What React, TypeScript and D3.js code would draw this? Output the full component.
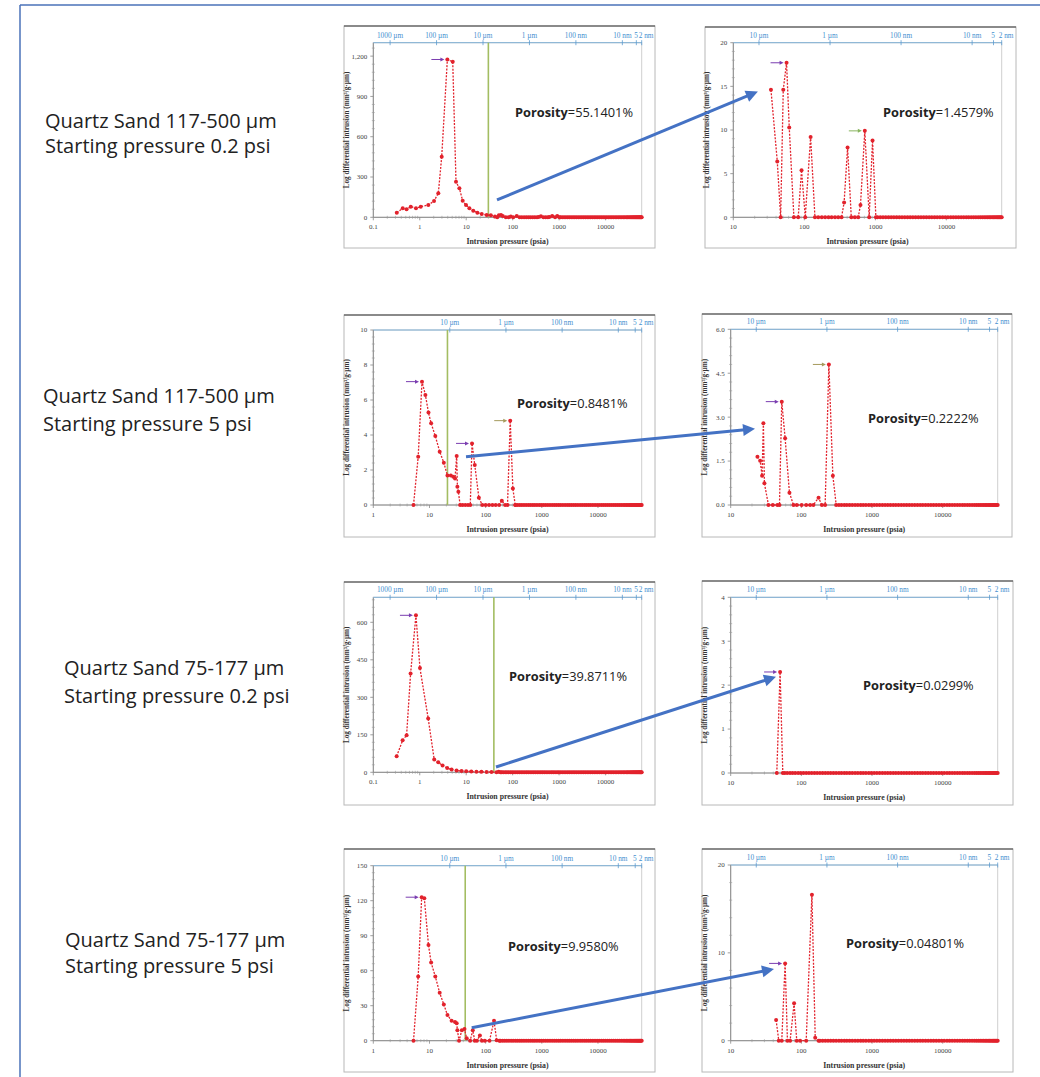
import React from "react";
import * as d3 from "d3";

// ---- data: intrusion pressure (psia) and log differential intrusion ----
// row 1: Quartz Sand 117-500 µm, start 0.2 psi
const p1Psi = [0.32, 0.43, 0.52, 0.64, 0.83, 1.05, 1.53, 2.03, 2.51, 2.97, 3.93, 5.13, 6.03, 7.13, 8.4, 9.9, 11.7, 14.2, 17.4, 21.6, 27.6, 33.9, 41.6, 46.4, 50.5, 56.2, 61.3, 71.3, 82, 91.3, 103, 122.5, 141, 157, 176, 196, 219, 242, 270, 300, 334, 363, 406, 458, 514, 573, 617, 710, 818, 912, 1016];
const p1Val = [34, 67, 60, 79, 67, 79, 92, 121, 179, 451, 1175, 1158, 265, 216, 123, 92, 67, 49, 34, 25, 17, 14.6, 6.4, 0, 14.6, 17.7, 10.3, 0, 0, 5.4, 0, 9.2, 0, 0, 0, 0, 0, 0, 0, 0, 0, 1.7, 8, 0, 0, 0, 1.4, 9.9, 0, 8.8, 0];
const p2Psi = [33.9, 41.6, 46.4, 50.5, 56.2, 61.3, 71.3, 82, 91.3, 103, 122.5, 141, 157, 176, 196, 219, 242, 270, 300, 334, 363, 406, 458, 514, 573, 617, 710, 818, 912, 1016];
const p2Val = [14.6, 6.4, 0, 14.6, 17.7, 10.3, 0, 0, 5.4, 0, 9.2, 0, 0, 0, 0, 0, 0, 0, 0, 0, 1.7, 8.0, 0, 0, 0, 1.4, 9.9, 0, 8.8, 0];
// row 2: Quartz Sand 117-500 µm, start 5 psi
const p3Psi = [5.2, 6.3, 7.36, 8.46, 9.6, 10.7, 12.7, 15.2, 18, 20.9, 24, 26.5, 28.5, 30.5, 31.4, 32.7, 35.1, 38.7, 43.3, 48.4, 53.3, 57.2, 64, 75.7, 87, 100, 115, 132, 151, 174, 194, 222, 245, 274, 305, 336];
const p3Val = [0, 2.76, 7.05, 6.29, 5.28, 4.67, 3.94, 3.05, 2.42, 1.68, 1.68, 1.62, 1.52, 2.8, 1.05, 0.76, 0, 0, 0, 0, 0, 3.52, 2.29, 0.42, 0, 0, 0, 0, 0, 0, 0.25, 0, 0, 4.82, 0.95, 0];
const p4Psi = [23.9, 26.1, 27.8, 29.0, 30.0, 34.2, 39.4, 45.8, 49, 52.8, 58.9, 67.8, 77.2, 86, 101, 117, 133, 148, 175, 195, 217, 245, 279, 311];
const p4Val = [1.65, 1.51, 1.0, 2.79, 0.74, 0, 0, 0, 0, 3.53, 2.28, 0.42, 0, 0, 0, 0, 0, 0, 0.25, 0, 0, 4.8, 1.0, 0];
// row 3: Quartz Sand 75-177 µm, start 0.2 psi
const p5Psi = [0.318, 0.428, 0.521, 0.635, 0.828, 1.01, 1.52, 2.05, 2.5, 3.1, 3.9, 4.84, 6.2, 7.94, 10, 12.9, 16.6, 21.3, 27.4, 35, 44.9, 50, 54.6];
const p5Val = [64, 128, 148, 395, 628, 417, 215, 51, 40, 27, 17, 11, 7, 5, 4, 3, 2.5, 2, 1.5, 1, 0, 2.3, 0];
const p6Psi = [44.9, 50, 54.6];
const p6Val = [0, 2.3, 0];
// row 4: Quartz Sand 75-177 µm, start 5 psi
const p7Psi = [5.2, 6.3, 7.26, 8.1, 9.6, 10.7, 12.7, 15.2, 18, 20.9, 24.8, 28.5, 30.5, 31.4, 33.6, 37.7, 42, 46, 53, 59, 64, 70, 79, 86, 97, 117, 141, 157, 175];
const p7Val = [0, 55, 123, 122, 82, 67, 55, 41, 31, 22, 17, 16, 15, 9, 0, 9, 10, 2, 0, 9, 0, 0, 4.5, 0, 0, 0, 17, 0.4, 0];
const p8Psi = [43.9, 47.9, 52.8, 58.9, 63.5, 69.3, 78.9, 86, 96, 117, 141, 157, 175];
const p8Val = [2.35, 0, 0, 8.8, 0, 0, 4.25, 0, 0, 0, 16.6, 0.35, 0];

// instrument pressure steps where every run reads zero
const zeroTailPsi = [58, 63, 69, 75, 82, 90, 98, 107, 117, 128, 140, 153, 167, 183, 200, 218, 238, 260, 284, 310, 340, 370, 405, 440, 480, 525, 575, 630, 690, 750, 820, 900, 980, 1070, 1170, 1280, 1400, 1530, 1670, 1820, 1990, 2170, 2370, 2590, 2830, 3090, 3370, 3680, 4020, 4390, 4790, 5230, 5710, 6230, 6800, 7420, 8100, 8840, 9650, 10500, 11500, 12500, 13600, 14800, 16100, 17500, 19000, 20600, 22300, 24100, 26000, 28000, 30000, 32000, 34000, 36000, 38000, 40000, 42000, 44000, 46000, 48000, 50000, 52000, 54000, 56000, 58000, 60000];

const porosity = ["55.1401%", "1.4579%", "0.8481%", "0.2222%", "39.8711%", "0.0299%", "9.9580%", "0.04801%"];
const cutoffPsi = [30, 20.9, 39.4, 43.3]; // green line in each left panel

const rowLabels = [
  ["Quartz Sand 117-500 µm", "Starting pressure 0.2 psi"],
  ["Quartz Sand 117-500 µm", "Starting pressure 5 psi"],
  ["Quartz Sand 75-177 µm", "Starting pressure 0.2 psi"],
  ["Quartz Sand 75-177 µm", "Starting pressure 5 psi"],
];

// pore diameter axis on top (Washburn, psia * µm)
const WASHBURN = 230;
const poreLabelsWide = ["1000 µm", "100 µm", "10 µm", "1 µm", "100 nm", "10 nm", "5", "2 nm"];
const poreDiamWide = [1000, 100, 10, 1, 0.1, 0.01, 0.005, 0.002];
const poreLabelsNarrow = ["10 µm", "1 µm", "100 nm", "10 nm", "5", "2 nm"];
const poreDiamNarrow = [10, 1, 0.1, 0.01, 0.005, 0.002];

// peak markers: [psi, value, colour]
const peaks = [
  [[3.93, 1175, "purple"]],
  [[56.2, 17.7, "purple"], [710, 9.9, "green"]],
  [[7.36, 7.05, "purple"], [57.2, 3.52, "purple"], [274, 4.82, "olive"]],
  [[52.8, 3.53, "purple"], [245, 4.8, "olive"]],
  [[0.828, 628, "purple"]],
  [[50, 2.3, "purple"]],
  [[7.26, 123, "purple"]],
  [[58.9, 8.8, "purple"]],
];

// blue links: from a point in the left panel to a point in the right panel
const linkFrom = [[46, 129], [44.7, 2.76], [43.8, 21], [56.5, 11.1]];
const linkTo = [[22.2, 14.4], [22.1, 2.6], [43.8, 2.19], [41, 8.16]];

const X_MAX = 60000;
const RED = "#e2222c";
const MARK_COLORS = { purple: "#7a3db0", olive: "#a59a5c", green: "#88b45e" };
const SERIF = "'Liberation Serif', 'DejaVu Serif', serif";
const SANS = "'Open Sans', 'Noto Sans', sans-serif";

const panels = [
  { box: [344, 26, 655, 248], plot: [373.3, 42.7, 641.7, 217.3], xMin: 0.1, yMax: 1300, yTicks: [0, 300, 600, 900, 1200], fmt: ",", psi: p1Psi, val: p1Val, wide: true, cutoff: cutoffPsi[0], poro: [515, 117] },
  { box: [705, 27, 1016, 248], plot: [733.3, 42.7, 1001.7, 217.3], xMin: 10, yMax: 20, yTicks: [0, 5, 10, 15, 20], fmt: "d", psi: p2Psi, val: p2Val, wide: false, poro: [883, 117] },
  { box: [344, 315, 655, 537], plot: [373.3, 330, 641.7, 505], xMin: 1, yMax: 10, yTicks: [0, 2, 4, 6, 8, 10], fmt: "d", psi: p3Psi, val: p3Val, wide: false, cutoff: cutoffPsi[1], poro: [517, 408] },
  { box: [702, 314, 1012, 537], plot: [730.7, 329.3, 997.7, 505], xMin: 10, yMax: 6, yTicks: [0, 1.5, 3, 4.5, 6], fmt: ".1f", psi: p4Psi, val: p4Val, wide: false, poro: [868, 423] },
  { box: [344, 582, 655, 805], plot: [373.3, 597.3, 641.7, 772.3], xMin: 0.1, yMax: 700, yTicks: [0, 150, 300, 450, 600], fmt: "d", psi: p5Psi, val: p5Val, wide: true, cutoff: cutoffPsi[2], poro: [509, 681] },
  { box: [702, 581, 1013, 805], plot: [730.7, 597.3, 997.7, 773], xMin: 10, yMax: 4, yTicks: [0, 1, 2, 3, 4], fmt: "d", psi: p6Psi, val: p6Val, wide: false, poro: [863, 690] },
  { box: [344, 849, 655, 1072], plot: [373.3, 865.7, 641.7, 1040.7], xMin: 1, yMax: 150, yTicks: [0, 30, 60, 90, 120, 150], fmt: "d", psi: p7Psi, val: p7Val, wide: false, cutoff: cutoffPsi[3], poro: [508, 951] },
  { box: [702, 849, 1013, 1072], plot: [730.7, 865, 997.7, 1040.7], xMin: 10, yMax: 20, yTicks: [0, 10, 20], fmt: "d", psi: p8Psi, val: p8Val, wide: false, poro: [846, 948] },
];

const labelPos = [[45, 128, 153], [43, 403, 431], [64, 675, 703], [65, 947, 973]];

const scalesFor = (cfg) => {
  const [px0, py0, px1, py1] = cfg.plot;
  return {
    x: d3.scaleLog().domain([cfg.xMin, X_MAX]).range([px0, px1]),
    y: d3.scaleLinear().domain([0, cfg.yMax]).range([py1, py0]),
  };
};

const Panel = ({ cfg, index }) => {
  const [bx0, by0, bx1, by1] = cfg.box;
  const [px0, py0, px1, py1] = cfg.plot;
  const { x, y } = scalesFor(cfg);

  const pts = cfg.psi.map((p, i) => [p, cfg.val[i]]);
  const last = cfg.psi[cfg.psi.length - 1];
  zeroTailPsi.filter((p) => p > last).forEach((p) => pts.push([p, 0]));

  const line = d3.line().x((d) => x(d[0])).y((d) => y(d[1]));

  const allTicks = x.ticks();
  const isDecade = (t) => Math.abs(Math.log10(t) - Math.round(Math.log10(t))) < 1e-6;
  const decades = allTicks.filter((t) => isDecade(t) && t < X_MAX);
  const minors = allTicks.filter((t) => !isDecade(t));

  const yStep = cfg.yTicks[1] - cfg.yTicks[0];
  const yMinors = [];
  cfg.yTicks.forEach((t) => {
    for (let k = 1; k < 5; k++) {
      const v = t + (k * yStep) / 5;
      if (v < cfg.yMax) yMinors.push(v);
    }
  });
  const fmt = d3.format(cfg.fmt);

  const poreLabels = cfg.wide ? poreLabelsWide : poreLabelsNarrow;
  const poreDiam = cfg.wide ? poreDiamWide : poreDiamNarrow;
  const poreX = poreDiam.map((d) => x(Math.min(WASHBURN / d, X_MAX)));
  const nPore = poreX.length;

  const [tx, ty] = cfg.poro;

  return (
    <g>
      <rect x={bx0} y={by0} width={bx1 - bx0} height={by1 - by0} fill="#fff" stroke="#b8b8b8" strokeWidth={1} />
      <line x1={bx0} x2={bx1} y1={by0} y2={by0} stroke="#3a3a3a" strokeWidth={1.2} />
      {/* plot frame */}
      <rect x={px0} y={py0} width={px1 - px0} height={py1 - py0} fill="none" stroke="#cfcfcf" strokeWidth={1} />
      <line x1={px0} x2={px0} y1={py0} y2={py1} stroke="#8a8a8a" strokeWidth={1} />
      <line x1={px0} x2={px1} y1={py1} y2={py1} stroke="#8a8a8a" strokeWidth={1} />
      {/* top pore diameter axis */}
      <line x1={px0} x2={px1} y1={py0} y2={py0} stroke="#7fb0d6" strokeWidth={1} />
      {poreX.map((px, i) => {
        // crowded labels at the right end: "5" sits left of its tick, "2 nm" right of it
        const anchor = i === nPore - 1 ? "start" : i === nPore - 2 ? "end" : "middle";
        const lx = i === nPore - 1 ? px - 3 : i === nPore - 2 ? px + 1.5 : px;
        return (
          <g key={"pt" + i}>
            <line x1={px} x2={px} y1={py0 - 2.5} y2={py0 + 2.5} stroke="#5a9bd0" strokeWidth={0.8} />
            <text x={lx} y={py0 - 5} textAnchor={anchor} fontFamily={SERIF} fontSize={7.3} fill="#3f8fcf">{poreLabels[i]}</text>
          </g>
        );
      })}
      {/* y ticks */}
      {yMinors.map((v, i) => (
        <line key={"ym" + i} x1={px0 - 1.5} x2={px0 + 1.5} y1={y(v)} y2={y(v)} stroke="#999" strokeWidth={0.6} />
      ))}
      {cfg.yTicks.map((v) => (
        <g key={"yt" + v}>
          <line x1={px0 - 3} x2={px0} y1={y(v)} y2={y(v)} stroke="#888" strokeWidth={0.8} />
          <text x={px0 - 6} y={y(v) + 2.4} textAnchor="end" fontFamily={SERIF} fontSize={7} fill="#444">{fmt(v)}</text>
        </g>
      ))}
      {/* x ticks */}
      {minors.map((t, i) => (
        <line key={"xm" + i} x1={x(t)} x2={x(t)} y1={py1 - 1.5} y2={py1 + 1.5} stroke="#999" strokeWidth={0.6} />
      ))}
      {decades.map((t) => (
        <g key={"xt" + t}>
          <line x1={x(t)} x2={x(t)} y1={py1} y2={py1 + 3} stroke="#888" strokeWidth={0.8} />
          <text x={x(t)} y={py1 + 12} textAnchor="middle" fontFamily={SERIF} fontSize={7} fill="#444">{t < 1 ? "0.1" : String(t)}</text>
        </g>
      ))}
      {/* axis titles */}
      <text x={(px0 + px1) / 2} y={py1 + 27} textAnchor="middle" fontFamily={SERIF} fontWeight="bold" fontSize={7.8} fill="#333">Intrusion pressure (psia)</text>
      <text transform={`translate(${px0 - 24},${(py0 + py1) / 2}) rotate(-90)`} textAnchor="middle" fontFamily={SERIF} fontWeight="bold" fontSize={7.2} fill="#333">Log differential intrusion (mm³/g·µm)</text>
      {/* cutoff line */}
      {cfg.cutoff && (
        <line x1={x(cfg.cutoff)} x2={x(cfg.cutoff)} y1={py0} y2={py1} stroke="#a3bd62" strokeWidth={1.6} />
      )}
      {/* series */}
      <path d={line(pts)} fill="none" stroke={RED} strokeWidth={1.3} strokeDasharray="2,1.4" />
      {pts.map((d, i) => (
        <circle key={"c" + i} cx={x(d[0])} cy={y(d[1])} r={2} fill={RED} />
      ))}
      {/* peak arrows */}
      {peaks[index].map(([p, v, c], i) => {
        const ex = x(p) - 3;
        const ey = y(v);
        const col = MARK_COLORS[c];
        return (
          <g key={"pk" + i}>
            <line x1={ex - 13} x2={ex - 3} y1={ey} y2={ey} stroke={col} strokeWidth={1} />
            <path d={`M${ex},${ey} L${ex - 4},${ey - 2} L${ex - 4},${ey + 2} Z`} fill={col} />
          </g>
        );
      })}
      {/* porosity */}
      <text x={tx} y={ty} fontFamily={SANS} fontSize={12.8} fill="#222">
        <tspan fontWeight="bold">Porosity</tspan>
        <tspan>={porosity[index]}</tspan>
      </text>
    </g>
  );
};

const Link = ({ from, to, left, right }) => {
  const a = scalesFor(left);
  const b = scalesFor(right);
  const x1 = a.x(from[0]);
  const y1 = a.y(from[1]);
  const x2 = b.x(to[0]);
  const y2 = b.y(to[1]);
  const len = Math.hypot(x2 - x1, y2 - y1);
  const ux = (x2 - x1) / len;
  const uy = (y2 - y1) / len;
  const head = 12;
  const half = 6;
  const bx = x2 - ux * head;
  const by = y2 - uy * head;
  return (
    <g>
      <line x1={x1} y1={y1} x2={x2 - ux * (head - 2)} y2={y2 - uy * (head - 2)} stroke="#4472c4" strokeWidth={3} />
      <path d={`M${x2},${y2} L${bx - uy * half},${by + ux * half} L${bx + uy * half},${by - ux * half} Z`} fill="#4472c4" />
    </g>
  );
};

const App = () => {
  return (
    <svg width={1040} height={1077} style={{ position: "absolute", left: 0, top: 0, background: "#fff" }}>
      <rect x={0} y={0} width={1040} height={1077} fill="#fff" />
      <line x1={20} x2={1040} y1={5} y2={5} stroke="#4a72b8" strokeWidth={1.5} />
      <line x1={20} x2={20} y1={5} y2={1077} stroke="#4a72b8" strokeWidth={1.5} />
      {rowLabels.map((lines, i) => (
        <g key={"lab" + i}>
          <text x={labelPos[i][0]} y={labelPos[i][1]} fontFamily={SANS} fontSize={20} fill="#222">{lines[0]}</text>
          <text x={labelPos[i][0]} y={labelPos[i][2]} fontFamily={SANS} fontSize={20} fill="#222">{lines[1]}</text>
        </g>
      ))}
      {panels.map((cfg, i) => (
        <Panel key={i} cfg={cfg} index={i} />
      ))}
      {linkFrom.map((f, i) => (
        <Link key={"lk" + i} from={f} to={linkTo[i]} left={panels[2 * i]} right={panels[2 * i + 1]} />
      ))}
    </svg>
  );
};

export default App;
